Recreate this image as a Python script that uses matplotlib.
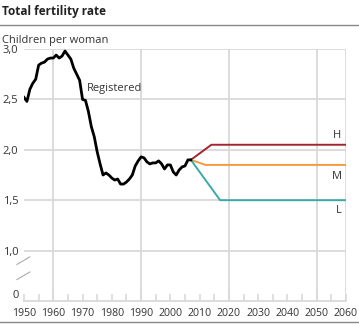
import numpy as np
import matplotlib
matplotlib.use("Agg")
import matplotlib.pyplot as plt

# registered total fertility rate, Norway
years = list(range(1950, 2008))
registered = [2.52, 2.48, 2.60, 2.66, 2.70, 2.84, 2.86, 2.87, 2.90, 2.91,
              2.91, 2.94, 2.91, 2.93, 2.98, 2.94, 2.90, 2.81, 2.75, 2.69,
              2.50, 2.49, 2.38, 2.23, 2.13, 1.98, 1.86, 1.75, 1.77, 1.75,
              1.72, 1.70, 1.71, 1.66, 1.66, 1.68, 1.71, 1.75, 1.84, 1.89,
              1.93, 1.92, 1.88, 1.86, 1.87, 1.87, 1.89, 1.86, 1.81, 1.85,
              1.85, 1.78, 1.75, 1.80, 1.83, 1.84, 1.90, 1.90]

# projection alternatives
high_years = [2007, 2014, 2060]
high = [1.90, 2.05, 2.05]
mid_years = [2007, 2012, 2060]
mid = [1.90, 1.85, 1.85]
low_years = [2007, 2017, 2060]
low = [1.90, 1.50, 1.50]

ytick_vals = [0, 1.0, 1.5, 2.0, 2.5, 3.0]
ytick_labels = ["0", "1,0", "1,5", "2,0", "2,5", "3,0"]

def brk(v):
    # broken axis: 0..1 squeezed to half height
    v = np.asarray(v, dtype=float)
    return np.where(v >= 1.0, v - 0.5, v * 0.5)

plt.rcParams['font.family'] = ['Open Sans', 'DejaVu Sans']
grid_c = '#d9d9d9'
txt_c = '#333333'

fig = plt.figure(figsize=(3.59, 3.25), dpi=100)
ax = fig.add_axes([24/359, 1-301/325, 322/359, 252/325])

for y in [1.0, 1.5, 2.0, 2.5, 3.0]:
    ax.axhline(brk(y), color=grid_c, lw=1.3, zorder=0)
for x in [1960, 1990, 2020, 2050, 2060]:
    ax.axvline(x, color=grid_c, lw=1.3, zorder=0)

ax.plot(high_years, brk(high), color='#a3262e', lw=1.4)
ax.plot(mid_years, brk(mid), color='#f59a3c', lw=1.4)
ax.plot(low_years, brk(low), color='#3aaaa6', lw=1.4)
ax.plot(years, brk(registered), color='black', lw=2.0)

ax.text(1971.5, brk(2.61), "Registered", fontsize=8, color=txt_c, va='center')
ax.text(2058.5, brk(2.14), "H", fontsize=8, color=txt_c, ha='right', va='center')
ax.text(2058.5, brk(1.74), "M", fontsize=8, color=txt_c, ha='right', va='center')
ax.text(2058.5, brk(1.40), "L", fontsize=8, color=txt_c, ha='right', va='center')

ax.set_xlim(1950, 2060)
ax.set_ylim(0, 2.5)
for s in ['left', 'right', 'top']:
    ax.spines[s].set_visible(False)
ax.spines['bottom'].set_color(grid_c)
ax.spines['bottom'].set_linewidth(1.3)

ax.set_xticks(range(1950, 2061, 5))
ax.set_xticklabels([str(y) if y % 10 == 0 else "" for y in range(1950, 2061, 5)])
ax.tick_params(axis='x', direction='in', length=5, width=1.2, color=grid_c,
               labelsize=7.6, labelcolor=txt_c, pad=5)
ax.set_yticks(brk(ytick_vals))
ax.set_yticklabels(ytick_labels)
ax.tick_params(axis='y', length=0, labelsize=8, labelcolor=txt_c, pad=4)
ax.get_yticklabels()[0].set_va('bottom')

# axis break marks
for dy in [0, 0.06]:
    ax.plot([-0.022, 0.018], [0.085 + dy, 0.115 + dy], transform=ax.transAxes,
            color='#aaaaaa', lw=0.8, clip_on=False)

fig.text(2/359, 1-12/325, "Total fertility rate", fontsize=8.5, weight='bold',
         color='#222222', va='center')
fig.add_artist(plt.Line2D([0, 1], [1-25/325, 1-25/325], color='#888888', lw=1))
fig.text(2/359, 1-40/325, "Children per woman", fontsize=8, color=txt_c, va='center')
fig.add_artist(plt.Line2D([0, 1], [1-322/325, 1-322/325], color='#888888', lw=1))

fig.savefig("out.png", dpi=100)
